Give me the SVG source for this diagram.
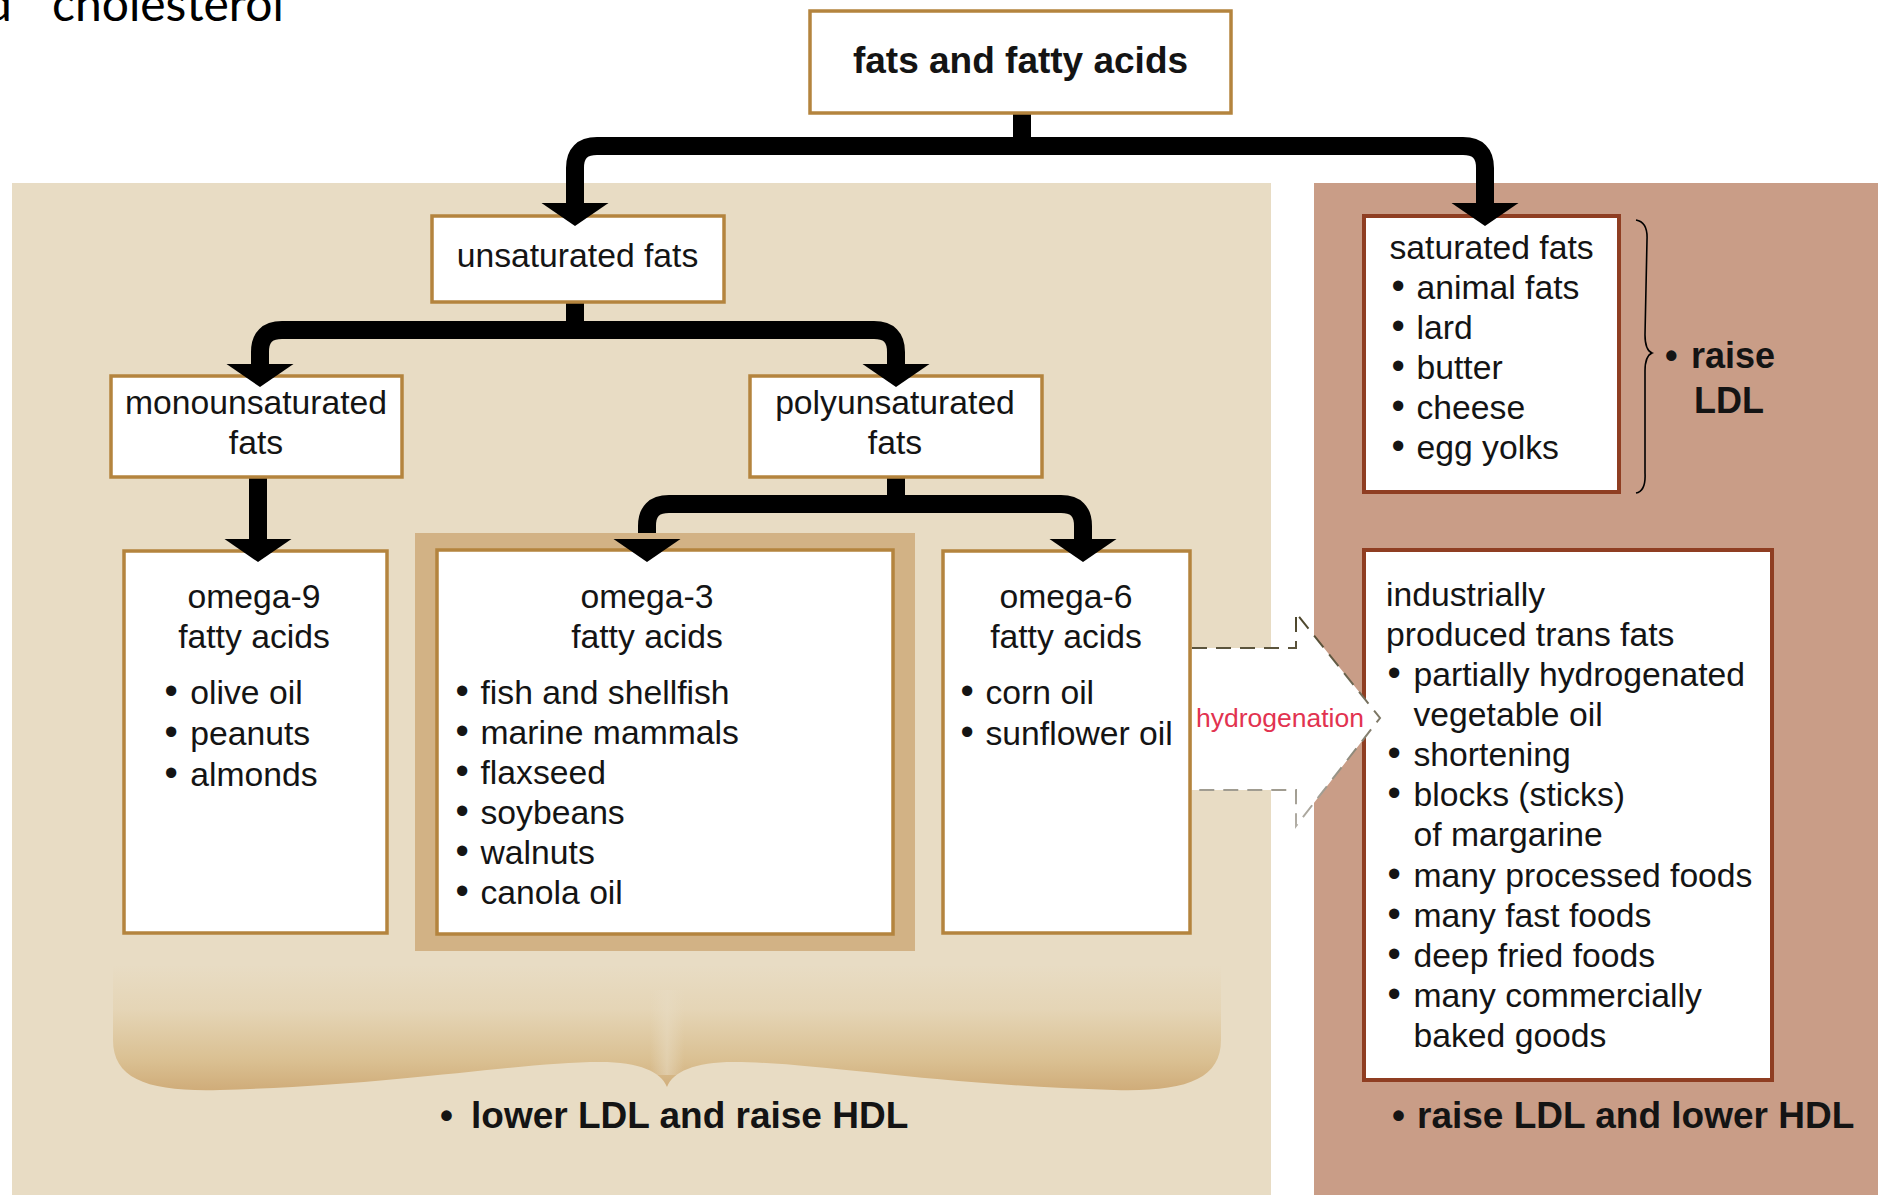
<svg xmlns="http://www.w3.org/2000/svg" xmlns:xlink="http://www.w3.org/1999/xlink" width="1878" height="1195" viewBox="0 0 1878 1195">
<style>
.t{font-family:"Liberation Sans",Arial,sans-serif;font-size:33.7px;fill:#141414}
.c{text-anchor:middle}
.b{font-weight:bold}
.bu{font-size:38px}
.box{fill:#fff;stroke:#b4843e;stroke-width:3.5}
.rbox{fill:#fff;stroke:#8f3e22;stroke-width:4}
.con{fill:none;stroke:#000;stroke-width:18;stroke-linejoin:round}
</style>
<defs>
<path id="ah" d="M-33.5 0 L33.5 0 L0 23 Z" fill="#000"/>
<linearGradient id="brace" gradientUnits="userSpaceOnUse" x1="0" y1="965" x2="0" y2="1092">
<stop offset="0" stop-color="#e8dcc4"/>
<stop offset="0.35" stop-color="#e5d5b6"/>
<stop offset="0.75" stop-color="#dac092"/>
<stop offset="1" stop-color="#cfab78"/>
</linearGradient>
<linearGradient id="mid" gradientUnits="userSpaceOnUse" x1="650" y1="0" x2="684" y2="0">
<stop offset="0" stop-color="#e8dcc4" stop-opacity="0"/>
<stop offset="0.5" stop-color="#e8dcc4" stop-opacity="0.55"/>
<stop offset="1" stop-color="#e8dcc4" stop-opacity="0"/>
</linearGradient>
<linearGradient id="dash" gradientUnits="userSpaceOnUse" x1="0" y1="613" x2="0" y2="826">
<stop offset="0" stop-color="#4a4328"/>
<stop offset="1" stop-color="#b2aea6"/>
</linearGradient>
</defs>

<rect width="1878" height="1195" fill="#fff"/>
<text x="-15" y="21" style="font-family:Lato,'Open Sans',sans-serif;font-size:48px;fill:#000"><tspan x="-15">d </tspan><tspan x="52">cholesterol</tspan></text>

<g id="panels">
<rect x="12" y="183" width="1259" height="1012" fill="#e8dcc4"/>
<rect x="1314" y="183" width="564" height="1012" fill="#c99d87"/>
<path d="M113 965 V1040 C113 1080 150 1092 220 1090 C400 1085 520 1062 600 1062 C640 1062 661 1072 667 1087 C673 1072 694 1062 734 1062 C814 1062 934 1085 1114 1090 C1184 1092 1221 1080 1221 1040 V965 Z" fill="url(#brace)"/>
<rect x="650" y="990" width="34" height="85" fill="url(#mid)"/>
</g>

<g id="connectors">
<path class="con" d="M1022 113 V147"/>
<path class="con" d="M575 205 V168 Q575 146 597 146 H1463 Q1485 146 1485 168 V205"/>
<path class="con" d="M575 302 V331"/>
<path class="con" d="M260 366 V352 Q260 330 282 330 H874 Q896 330 896 352 V366"/>
<path class="con" d="M258 477 V541"/>
<path class="con" d="M896 477 V505"/>
<path class="con" d="M647 541 V526 Q647 504 669 504 H1061 Q1083 504 1083 526 V541"/>
</g>

<g id="node-top">
<rect class="box" x="810" y="11" width="421" height="102"/>
<text class="t c b" x="1020.5" y="73" style="font-size:37px">fats and fatty acids</text>
</g>

<g id="node-unsaturated">
<rect class="box" x="432" y="216" width="292" height="86"/>
<text class="t c" x="577.5" y="267">unsaturated fats</text>
</g>

<g id="node-mono">
<rect class="box" x="111" y="376" width="291" height="101"/>
<text class="t c" x="256" y="414">monounsaturated</text>
<text class="t c" x="256" y="454">fats</text>
</g>

<g id="node-poly">
<rect class="box" x="750" y="376" width="292" height="101"/>
<text class="t c" x="895" y="414">polyunsaturated</text>
<text class="t c" x="895" y="454">fats</text>
</g>

<g id="node-omega9">
<rect class="box" x="124" y="551" width="263" height="382"/>
<text class="t c" x="254" y="608">omega-9</text>
<text class="t c" x="254" y="648">fatty acids</text>
<text class="t" y="704"><tspan class="bu" x="164.5">• </tspan><tspan x="190.3">olive oil</tspan></text>
<text class="t" y="745"><tspan class="bu" x="164.5">• </tspan><tspan x="190.3">peanuts</tspan></text>
<text class="t" y="786"><tspan class="bu" x="164.5">• </tspan><tspan x="190.3">almonds</tspan></text>
</g>

<g id="node-omega3">
<rect x="415" y="533" width="500" height="418" fill="#d2b285"/>
<rect class="box" x="437" y="550" width="456" height="384"/>
<text class="t c" x="647" y="608">omega-3</text>
<text class="t c" x="647" y="648">fatty acids</text>
<text class="t" y="703.5"><tspan class="bu" x="455.5">• </tspan><tspan x="480.5">fish and shellfish</tspan></text>
<text class="t" y="743.5"><tspan class="bu" x="455.5">• </tspan><tspan x="480.5">marine mammals</tspan></text>
<text class="t" y="783.5"><tspan class="bu" x="455.5">• </tspan><tspan x="480.5">flaxseed</tspan></text>
<text class="t" y="823.5"><tspan class="bu" x="455.5">• </tspan><tspan x="480.5">soybeans</tspan></text>
<text class="t" y="863.5"><tspan class="bu" x="455.5">• </tspan><tspan x="480.5">walnuts</tspan></text>
<text class="t" y="903.5"><tspan class="bu" x="455.5">• </tspan><tspan x="480.5">canola oil</tspan></text>
</g>

<g id="node-omega6">
<rect class="box" x="943" y="551" width="247" height="382"/>
<text class="t c" x="1066" y="608">omega-6</text>
<text class="t c" x="1066" y="648">fatty acids</text>
<text class="t" y="704"><tspan class="bu" x="960.5">• </tspan><tspan x="985.5">corn oil</tspan></text>
<text class="t" y="745"><tspan class="bu" x="960.5">• </tspan><tspan x="985.5">sunflower oil</tspan></text>
</g>

<g id="node-saturated">
<rect class="rbox" x="1364" y="216" width="255" height="276"/>
<text class="t" x="1389.5" y="259">saturated fats</text>
<text class="t" y="299"><tspan class="bu" x="1391.5">• </tspan><tspan x="1416.5">animal fats</tspan></text>
<text class="t" y="339"><tspan class="bu" x="1391.5">• </tspan><tspan x="1416.5">lard</tspan></text>
<text class="t" y="379"><tspan class="bu" x="1391.5">• </tspan><tspan x="1416.5">butter</tspan></text>
<text class="t" y="419"><tspan class="bu" x="1391.5">• </tspan><tspan x="1416.5">cheese</tspan></text>
<text class="t" y="459"><tspan class="bu" x="1391.5">• </tspan><tspan x="1416.5">egg yolks</tspan></text>
</g>

<g id="brace-saturated">
<path d="M1636 220 Q1648 222 1647 240 L1645 335 Q1645 350 1652 353 Q1645 356 1645 371 L1645 473 Q1646 491 1636 493" fill="none" stroke="#000" stroke-width="1.6"/>
<text class="t b" style="font-size:36px" y="368"><tspan x="1665">• </tspan><tspan x="1691">raise</tspan></text>
<text class="t b" style="font-size:36px" x="1694" y="413">LDL</text>
</g>

<g id="node-trans">
<rect class="rbox" x="1364" y="550" width="408" height="530"/>
<text class="t" x="1386" y="605.5">industrially</text>
<text class="t" x="1386" y="645.6">produced trans fats</text>
<text class="t" y="685.8"><tspan class="bu" x="1387.5">• </tspan><tspan x="1413.5">partially hydrogenated</tspan></text>
<text class="t" x="1413.5" y="726">vegetable oil</text>
<text class="t" y="766"><tspan class="bu" x="1387.5">• </tspan><tspan x="1413.5">shortening</tspan></text>
<text class="t" y="806"><tspan class="bu" x="1387.5">• </tspan><tspan x="1413.5">blocks (sticks)</tspan></text>
<text class="t" x="1413.5" y="846">of margarine</text>
<text class="t" y="886.5"><tspan class="bu" x="1387.5">• </tspan><tspan x="1413.5">many processed foods</tspan></text>
<text class="t" y="926.5"><tspan class="bu" x="1387.5">• </tspan><tspan x="1413.5">many fast foods</tspan></text>
<text class="t" y="966.6"><tspan class="bu" x="1387.5">• </tspan><tspan x="1413.5">deep fried foods</tspan></text>
<text class="t" y="1006.7"><tspan class="bu" x="1387.5">• </tspan><tspan x="1413.5">many commercially</tspan></text>
<text class="t" x="1413.5" y="1046.8">baked goods</text>
</g>

<g id="hydrogenation-arrow">
<polygon points="1192,648 1296,648 1296,613 1380,718 1296,826 1296,790 1192,790" fill="#fff"/>
<polyline points="1192,648 1296,648 1296,613 1380,718 1296,826 1296,790 1192,790" fill="none" stroke="url(#dash)" stroke-width="2" stroke-dasharray="15 9"/>
<text x="1196" y="727" style="font-family:'Liberation Sans',Arial,sans-serif;font-size:26.5px;fill:#e23350">hydrogenation</text>
</g>

<g id="arrowheads">
<use xlink:href="#ah" x="575" y="203"/>
<use xlink:href="#ah" x="1485" y="203"/>
<use xlink:href="#ah" x="260" y="364"/>
<use xlink:href="#ah" x="896" y="364"/>
<use xlink:href="#ah" x="258" y="539"/>
<use xlink:href="#ah" x="647" y="539"/>
<use xlink:href="#ah" x="1083" y="539"/>
</g>

<g id="labels-bottom">
<text class="t b" style="font-size:37px" y="1128"><tspan x="440">• </tspan><tspan x="471">lower LDL and raise HDL</tspan></text>
<text class="t b" style="font-size:37px" y="1128"><tspan x="1392">• </tspan><tspan x="1417">raise LDL and lower HDL</tspan></text>
</g>
</svg>
